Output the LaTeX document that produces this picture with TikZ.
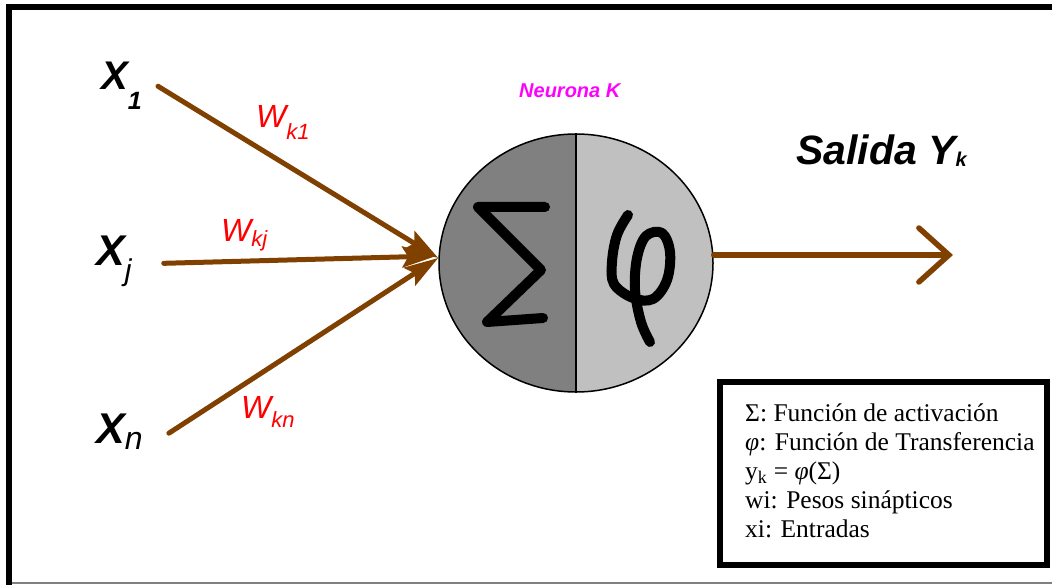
\documentclass[tikz,border=0pt]{standalone}
\usepackage{fontspec}
\setmainfont{Liberation Serif}
\newfontfamily\arial{Liberation Sans}
\usetikzlibrary{arrows.meta,shapes.geometric}
\definecolor{brownarrow}{RGB}{128,64,0}
\definecolor{darkhalf}{RGB}{128,128,128}
\definecolor{lighthalf}{RGB}{192,192,192}
\definecolor{mag}{RGB}{255,0,255}
\newcommand{\fs}[1]{\fontsize{#1}{#1}\selectfont}
\tikzset{
  xlab/.style={anchor=base west, inner sep=0pt, font=\arial\bfseries\itshape},
  wlab/.style={anchor=base west, inner sep=0pt, text=red, font=\arial\itshape},
  inarrow/.style={draw=brownarrow, line width=5pt, line cap=round, -{Stealth[length=34pt,width=21pt,inset=6pt]}},
  outarrow/.style={draw=brownarrow, line width=5.5pt, line cap=round, -{Straight Barb[length=30pt,width=54pt,line cap=round]}},
  strokes/.style={line width=10pt, line cap=round, line join=round},
}
\begin{document}
\begin{tikzpicture}[x=1pt,y=-1pt]
\useasboundingbox (0,0) rectangle (1052,585);
% frame
\draw[line width=6pt] (9,585) -- (9,7.5) -- (1052,7.5);
\draw[gray, line width=2pt] (12,583) -- (1052,583);
% neuron
\begin{scope}
  \clip (576,263) ellipse [x radius=137, y radius=129];
  \fill[darkhalf] (430,120) rectangle (576,400);
  \fill[lighthalf] (576,120) rectangle (720,400);
\end{scope}
\node[draw, ellipse, line width=1.5pt, minimum width=274pt, minimum height=258pt, inner sep=0pt] (neuron) at (576,263) {};
\draw[line width=1.5pt] (neuron.north) -- (neuron.south);
% Sigma
\draw[strokes] (545,207) -- (478,207) -- (541,270) -- (487,322) -- (543,318);
% phi
\draw[strokes] plot[smooth, tension=0.6] coordinates {(628,215) (617,235) (612,262) (614,284) (633,298) (653,299) (667,280) (670,252) (662,233) (646,236) (637,258) (635,290) (641,322) (650,342)};
\node[anchor=base west, inner sep=0pt, text=mag, font=\arial\bfseries\itshape\fs{20}] (nk) at (519,98) {Neurona K};
% inputs
\node[xlab] (x1) at (101,90) {\fs{40}X\raisebox{-20pt}{\fs{25}1}};
\node[xlab] (xj) at (96,266) {\fs{43}X\raisebox{-14pt}{\fontseries{m}\selectfont\fs{30}j}};
\node[xlab] (xn) at (96,443) {\fs{43}X\raisebox{-6pt}{\fontseries{m}\selectfont\fs{32}n}};
\coordinate (in) at ([yshift=5pt]neuron.west);
\draw[inarrow] ([xshift=16pt]x1.east) -- (in);
\draw[inarrow] ([xshift=32pt,yshift=-2pt]xj.east) -- ([xshift=-2pt,yshift=2pt]in);
\draw[inarrow] ([xshift=26pt,yshift=-2pt]xn.east) -- (in);
\node[wlab] (w1) at (256,128) {\fs{32}W\raisebox{-12pt}{\fs{22}k1}};
\node[wlab] (wj) at (221,242) {\fs{32}W\raisebox{-5pt}{\fs{22}kj}};
\node[wlab] (wn) at (241,418) {\fs{32}W\raisebox{-9pt}{\fs{22}kn}};
% output
\coordinate (out) at (953,255);
\draw[outarrow] (out -| neuron.east) -- (out);
\node[xlab] (sal) at (796,165) {\fs{41}Salida Y\raisebox{-2pt}{\fs{20}k}};
% legend
\draw[line width=6pt] (720,382) rectangle (1047,565);
\node[anchor=north west, inner sep=0pt, align=left, font=\fontsize{25.5}{29}\selectfont] (leg) at (745,404)
  {Σ: Función de activación\\
   {\itshape φ}: Función de Transferencia\\
   y\textsubscript{k} = {\itshape φ}(Σ)\\
   wi: Pesos sinápticos\\
   xi: Entradas};
\end{tikzpicture}
\end{document}
